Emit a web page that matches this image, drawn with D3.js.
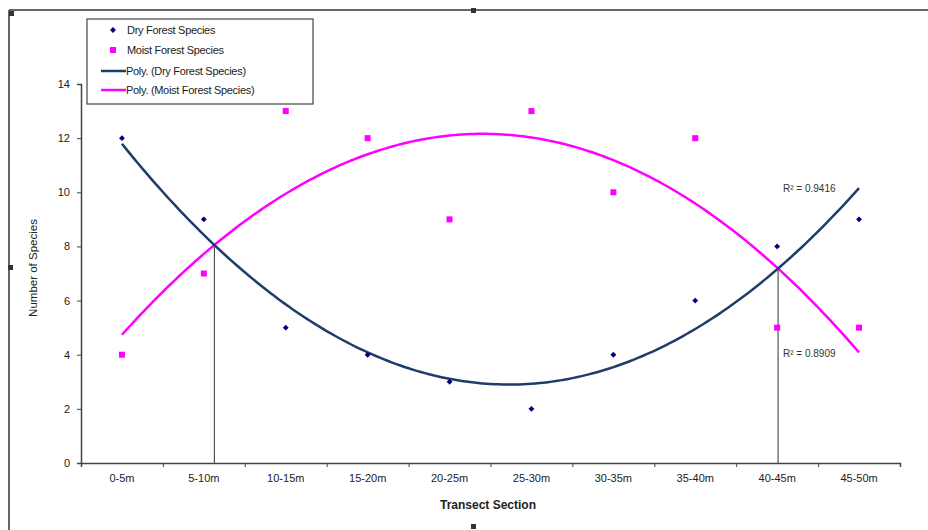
<!DOCTYPE html>
<html><head><meta charset="utf-8">
<script src="https://cdn.jsdelivr.net/npm/d3@7"></script>
<style>body{margin:0;background:#fff}svg{display:block;font-family:"Liberation Sans",Arial,sans-serif}</style>
</head><body><svg id="c" width="928" height="530"></svg>
<script>
const categories = ["0-5m","5-10m","10-15m","15-20m","20-25m","25-30m","30-35m","35-40m","40-45m","45-50m"];
const dryValues = [12, 9, 5, 4, 3, 2, 4, 6, 8, 9];
const moistValues = [4, 7, 13, 12, 9, 13, 10, 12, 5, 5];
const yTicks = [0, 2, 4, 6, 8, 10, 12, 14];
const r2Labels = ["R\u00B2 = 0.9416", "R\u00B2 = 0.8909"];
const legendLabels = ["Dry Forest Species", "Moist Forest Species", "Poly. (Dry Forest Species)", "Poly. (Moist Forest Species)"];

const dryColor = "#000080", moistColor = "#FF00FF", dryLine = "#1f3d6b";
const svg = d3.select("#c");
const L = 81, R = 900, T = 84, B = 463;

// frame
svg.append("line").attr("x1",9).attr("x2",928).attr("y1",10).attr("y2",10).attr("stroke","#666").attr("stroke-width",2);
svg.append("line").attr("x1",9).attr("x2",9).attr("y1",10).attr("y2",530).attr("stroke","#666").attr("stroke-width",2);
[[10,12],[472,9],[9,266],[472,525]].forEach(([x,y])=>svg.append("rect").attr("x",x-1).attr("y",y-1).attr("width",5).attr("height",5).attr("fill","#333"));

const xb = d3.scaleBand().domain(categories).range([L,R]);
const xl = d3.scaleLinear().domain([0.5, categories.length+0.5]).range([L,R]);
const y = d3.scaleLinear().domain([0,14]).range([B,T]);

// y axis
const ya = svg.append("g").attr("transform",`translate(${L},0)`).call(d3.axisLeft(y).tickValues(yTicks).tickSize(4).tickPadding(7));
ya.select(".domain").attr("stroke","#444").attr("stroke-width",1.5);
ya.selectAll(".tick line").attr("stroke","#444");
ya.selectAll("text").attr("font-size",11).attr("fill","#222").attr("font-family","Liberation Sans, Arial");

// x axis
const xt = svg.append("g").attr("transform",`translate(0,${B})`).call(d3.axisBottom(xl).tickValues(d3.range(0.5, categories.length+1, 1)).tickSize(4).tickFormat(""));
xt.select(".domain").attr("stroke","#444").attr("stroke-width",1.5);
xt.selectAll(".tick line").attr("stroke","#444");
const xa = svg.append("g").attr("transform",`translate(0,${B})`).call(d3.axisBottom(xb).tickSize(0).tickPadding(11));
xa.select(".domain").remove();
xa.selectAll("text").attr("font-size",11).attr("fill","#222").attr("font-family","Liberation Sans, Arial");

svg.append("text").attr("x",488).attr("y",509).attr("text-anchor","middle").attr("font-size",12).attr("font-weight","bold").attr("fill","#222").text("Transect Section");
svg.append("text").attr("transform","translate(37,268) rotate(-90)").attr("text-anchor","middle").attr("font-size",11.5).attr("fill","#222").text("Number of Species");

// quadratic least squares fit
function fit(vals){
  const n = vals.length, xs = vals.map((_,i)=>i+1);
  const S = k => d3.sum(xs, x=>Math.pow(x,k));
  const Sy = k => d3.sum(xs, (x,i)=>Math.pow(x,k)*vals[i]);
  const M = [[n,S(1),S(2)],[S(1),S(2),S(3)],[S(2),S(3),S(4)]], v=[Sy(0),Sy(1),Sy(2)];
  for(let i=0;i<3;i++){for(let j=i+1;j<3;j++){const f=M[j][i]/M[i][i];for(let k=i;k<3;k++)M[j][k]-=f*M[i][k];v[j]-=f*v[i];}}
  const c=[0,0,0];
  for(let i=2;i>=0;i--){let s=v[i];for(let k=i+1;k<3;k++)s-=M[i][k]*c[k];c[i]=s/M[i][i];}
  return c;
}
const cd = fit(dryValues), cm = fit(moistValues);
const f = (c,x)=>c[0]+c[1]*x+c[2]*x*x;
const xsFine = d3.range(1, categories.length+0.001, 0.05);
const line = c => d3.line().x(d=>xl(d)).y(d=>y(f(c,d)))(xsFine);

// intersections
const A=cd[2]-cm[2], Bq=cd[1]-cm[1], C=cd[0]-cm[0];
const disc=Math.sqrt(Bq*Bq-4*A*C);
[(-Bq-disc)/(2*A),(-Bq+disc)/(2*A)].forEach(xi=>{
  svg.append("line").attr("x1",xl(xi)).attr("x2",xl(xi)).attr("y1",y(f(cd,xi))).attr("y2",B).attr("stroke","#333").attr("stroke-width",1);
});

svg.append("path").attr("d",line(cm)).attr("fill","none").attr("stroke",moistColor).attr("stroke-width",2.5);
svg.append("path").attr("d",line(cd)).attr("fill","none").attr("stroke",dryLine).attr("stroke-width",2.5);

// markers
svg.selectAll(".dry").data(dryValues).join("path").attr("class","dry")
  .attr("d",d3.symbol(d3.symbolDiamond2,22)).attr("transform",(d,i)=>`translate(${xb(categories[i])+xb.bandwidth()/2},${y(d)})`).attr("fill",dryColor);
svg.selectAll(".moist").data(moistValues).join("rect").attr("class","moist")
  .attr("x",(d,i)=>xb(categories[i])+xb.bandwidth()/2-3).attr("y",d=>y(d)-3).attr("width",6).attr("height",6).attr("fill",moistColor);

// R2 labels
svg.append("text").attr("x",783).attr("y",192).attr("font-size",10).attr("fill","#333").text(r2Labels[0]);
svg.append("text").attr("x",783).attr("y",357).attr("font-size",10).attr("fill","#333").text(r2Labels[1]);

// legend
const lg = svg.append("g");
lg.append("rect").attr("x",87).attr("y",19).attr("width",226).attr("height",85).attr("fill","#fff").attr("stroke","#444").attr("stroke-width",1.2);
const ly=[30,50,71,90];
lg.append("path").attr("d",d3.symbol(d3.symbolDiamond2,22)).attr("transform",`translate(113,${ly[0]})`).attr("fill",dryColor);
lg.append("rect").attr("x",110).attr("y",ly[1]-3).attr("width",6).attr("height",6).attr("fill",moistColor);
lg.append("line").attr("x1",101).attr("x2",126).attr("y1",ly[2]).attr("y2",ly[2]).attr("stroke",dryLine).attr("stroke-width",2.5);
lg.append("line").attr("x1",101).attr("x2",126).attr("y1",ly[3]).attr("y2",ly[3]).attr("stroke",moistColor).attr("stroke-width",2.5);
legendLabels.forEach((t,i)=>lg.append("text").attr("x",i<2?127:126).attr("y",ly[i]+4).attr("font-size",11).attr("fill","#222").attr("letter-spacing",-0.3).text(t));
</script></body></html>
